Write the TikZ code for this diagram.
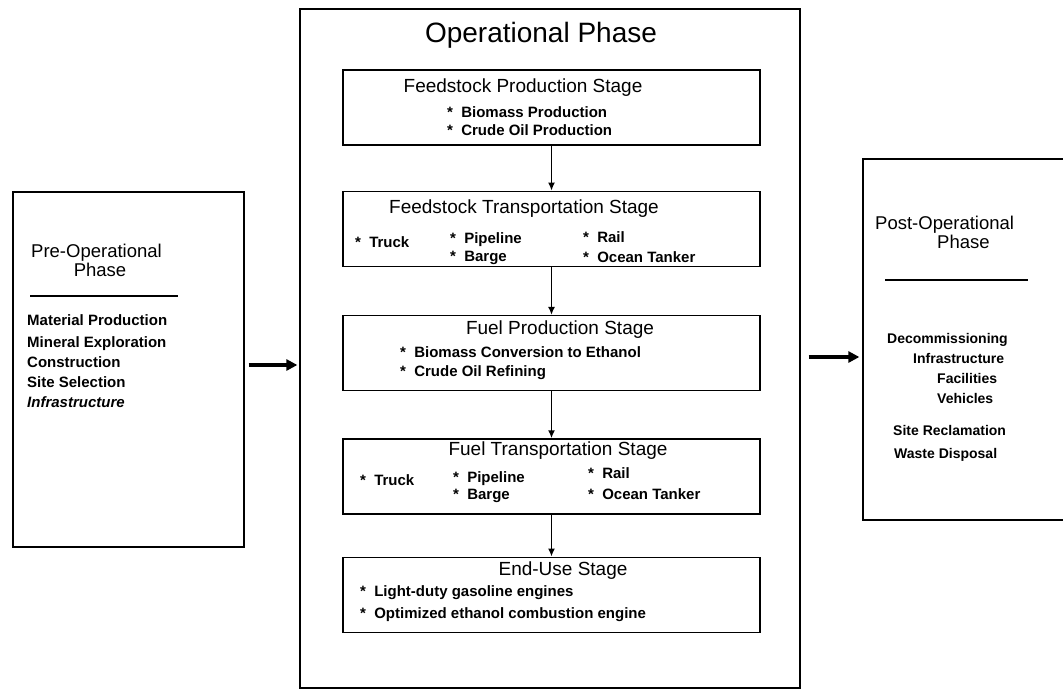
\documentclass[tikz,border=0pt]{standalone}
\usepackage{fontspec}
\setmainfont{Liberation Sans}
\usetikzlibrary{arrows.meta,positioning}
\newcommand{\bul}{*\hspace{0.55em}}

\begin{document}
\begin{tikzpicture}[x=1pt,y=-1pt,
  phasebox/.style={draw,line width=1.3pt,inner sep=0pt},
  stagebox/.style={draw,line width=1.3pt,inner sep=0pt,minimum width=417pt,minimum height=75pt},
  phasettl/.style={anchor=base,inner sep=0pt,font=\fontsize{18.5}{22}\selectfont},
  stagettl/.style={anchor=base,inner sep=0pt,font=\fontsize{19}{22}\selectfont},
  itm/.style={anchor=base west,inner sep=0pt,font=\bfseries\fontsize{15}{17}\selectfont},
  postitm/.style={anchor=base west,inner sep=0pt,font=\bfseries\fontsize{14}{16}\selectfont},
  rule/.style={line width=1.2pt},
  arr/.style={-{Latex[length=8pt,width=7pt]},line width=1.7pt},
  bigarr/.style={-{Triangle[length=11pt,width=11pt]},line width=3.5pt}
]
\useasboundingbox (0,0) rectangle (1063,689);

\node[phasebox,minimum width=231pt,minimum height=355pt] (pre) at (128.5,369.5) {};
\node[phasebox,minimum width=500pt,minimum height=679pt] (ops) at (550,348.5) {};
\node[phasebox,minimum width=207pt,minimum height=361pt] (post) at (966.5,339.5) {};

\node[anchor=base,inner sep=0pt,font=\fontsize{28}{30}\selectfont] (opsttl) at (541,42) {Operational Phase};

\node[stagebox] (fp) at (551.5,107.5) {};
\node[stagebox,below=45pt of fp] (ft) {};
\node[stagebox,below=48pt of ft] (fuelp) {};
\node[stagebox,below=47pt of fuelp] (fuelt) {};
\node[stagebox,below=42pt of fuelt] (enduse) {};

\node[stagettl] (fpttl) at (523,92) {Feedstock Production Stage};
\node[itm] (fp1) at (447,117) {\bul Biomass Production};
\node[itm] (fp2) at (447,135) {\bul Crude Oil Production};

\node[stagettl] (ftttl) at (524,213) {Feedstock Transportation Stage};
\node[itm] (ft1) at (355,247) {\bul Truck};
\node[itm] (ft2) at (450,243) {\bul Pipeline};
\node[itm] (ft3) at (450,261) {\bul Barge};
\node[itm] (ft4) at (583,242) {\bul Rail};
\node[itm] (ft5) at (583,262) {\bul Ocean Tanker};

\node[stagettl] (fuelpttl) at (560,334) {Fuel Production Stage};
\node[itm] (fuelp1) at (400,357) {\bul Biomass Conversion to Ethanol};
\node[itm] (fuelp2) at (400,376) {\bul Crude Oil Refining};

\node[stagettl] (fueltttl) at (558,455) {Fuel Transportation Stage};
\node[itm] (fuelt1) at (360,485) {\bul Truck};
\node[itm] (fuelt2) at (453,482) {\bul Pipeline};
\node[itm] (fuelt3) at (453,499) {\bul Barge};
\node[itm] (fuelt4) at (588,478) {\bul Rail};
\node[itm] (fuelt5) at (588,499) {\bul Ocean Tanker};

\node[stagettl] (endusettl) at (563,575) {End-Use Stage};
\node[itm] (enduse1) at (360,596) {\bul Light-duty gasoline engines};
\node[itm] (enduse2) at (360,618) {\bul Optimized ethanol combustion engine};

\node[phasettl] (prettl) at (96.5,257) {Pre-Operational};
\node[phasettl] (prettl2) at (100,276) {Phase};
\draw[rule] (30,296) -- (178,296);
\node[itm] (pre1) at (27,325) {Material Production};
\node[itm] (pre2) at (27,347) {Mineral Exploration};
\node[itm] (pre3) at (27,367) {Construction};
\node[itm] (pre4) at (27,387) {Site Selection};
\node[itm] (pre5) at (27,407) {\itshape Infrastructure};

\node[phasettl,anchor=base west] (postttl) at (875,229) {Post-Operational};
\node[phasettl,anchor=base west] (postttl2) at (937,248) {Phase};
\draw[rule] (885,280) -- (1028,280);
\node[postitm] (post1) at (887,343) {Decommissioning};
\node[postitm] (post2) at (913,363) {Infrastructure};
\node[postitm] (post3) at (937,383) {Facilities};
\node[postitm] (post4) at (937,403) {Vehicles};
\node[postitm] (post5) at (893,435) {Site Reclamation};
\node[postitm] (post6) at (894,458) {Waste Disposal};

\draw[arr] (fp) -- (ft);
\draw[arr] (ft) -- (fuelp);
\draw[arr] (fuelp) -- (fuelt);
\draw[arr] (fuelt) -- (enduse);
\draw[bigarr,shorten <=4pt,shorten >=2pt] ([yshift=4.5pt]pre.east) -- ([yshift=4.5pt]pre.east -| ops.west);
\draw[bigarr,shorten <=8pt,shorten >=3pt] ([yshift=-17.5pt]post.west -| ops.east) -- ([yshift=-17.5pt]post.west);
\end{tikzpicture}
\end{document}
